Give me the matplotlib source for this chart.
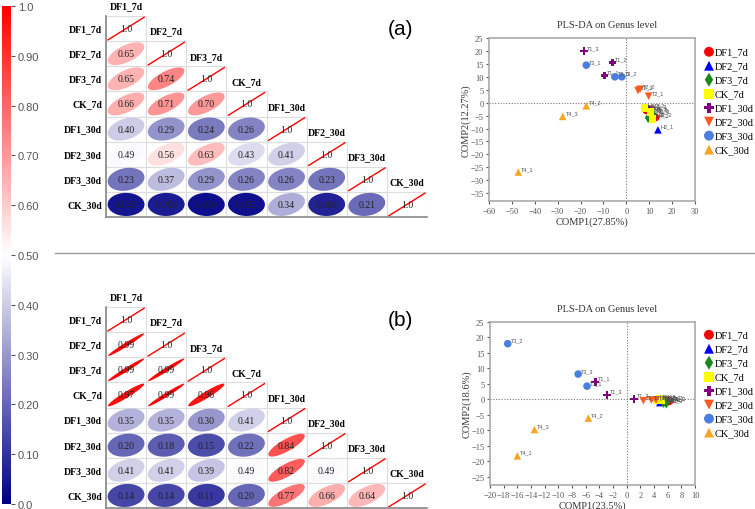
import numpy as np
import matplotlib
matplotlib.use('Agg')
import matplotlib.pyplot as plt
from matplotlib.colors import LinearSegmentedColormap, Normalize
from matplotlib.patches import Polygon, Rectangle
from matplotlib.lines import Line2D
import matplotlib.cm as cm

W, H = 755, 510

groups = ['DF1_7d', 'DF2_7d', 'DF3_7d', 'CK_7d', 'DF1_30d', 'DF2_30d', 'DF3_30d', 'CK_30d']

# lower triangle of the correlation matrices (row i, columns 0..i-1)
corr_a = [
    [],
    [0.65],
    [0.65, 0.74],
    [0.66, 0.71, 0.70],
    [0.40, 0.29, 0.24, 0.26],
    [0.49, 0.56, 0.63, 0.43, 0.41],
    [0.23, 0.37, 0.29, 0.26, 0.26, 0.23],
    [0.042, 0.056, 0.030, 0.032, 0.34, 0.068, 0.21],
]
corr_b = [
    [],
    [0.99],
    [0.99, 0.99],
    [0.97, 0.99, 0.96],
    [0.35, 0.35, 0.30, 0.41],
    [0.20, 0.18, 0.15, 0.22, 0.84],
    [0.41, 0.41, 0.39, 0.49, 0.82, 0.49],
    [0.14, 0.14, 0.11, 0.20, 0.77, 0.66, 0.64],
]

# PLS-DA scores (COMP1, COMP2) per group, three samples each
sample_names = {
    'DF1_7d': ['H1_1', 'H1_2', 'H1_3'], 'DF2_7d': ['H2_1', 'H2_2', 'H2_3'],
    'DF3_7d': ['H3_1', 'H3_2', 'H3_3'], 'CK_7d': ['H4_1', 'H4_2', 'H4_3'],
    'DF1_30d': ['T1_1', 'T1_2', 'T1_3'], 'DF2_30d': ['T2_1', 'T2_2', 'T2_3'],
    'DF3_30d': ['T3_1', 'T3_2', 'T3_3'], 'CK_30d': ['T4_1', 'T4_2', 'T4_3'],
}
scores_a = {
    'DF1_7d': [(8.7, -3.0), (12.8, -5.7), (10.5, -2.5)],
    'DF2_7d': [(13.8, -10.5), (9.8, -2.2), (11.5, -4.0)],
    'DF3_7d': [(9.5, -5.8), (11.0, -3.8), (11.8, -4.5)],
    'CK_7d': [(8.0, -2.1), (11.4, -6.2), (10.5, -3.5)],
    'DF1_30d': [(-9.5, 10.5), (-6.0, 15.5), (-18.5, 20.0)],
    'DF2_30d': [(9.75, 2.5), (6.0, 5.2), (5.1, 4.7)],
    'DF3_30d': [(-17.5, 14.5), (-2.0, 10.0), (-5.0, 10.0)],
    'CK_30d': [(-47.2, -26.8), (-17.5, -1.2), (-27.8, -5.3)],
}
scores_b = {
    'DF1_7d': [(6.1, -0.7), (5.8, -0.3), (6.3, -0.5)],
    'DF2_7d': [(4.85, -1.0), (5.2, -0.6), (5.5, -0.8)],
    'DF3_7d': [(5.4, -1.0), (5.6, -0.4), (5.8, -1.2)],
    'CK_7d': [(4.45, -0.1), (4.8, 0.1), (5.0, -0.3)],
    'DF1_30d': [(-4.6, 5.7), (1.1, 0.2), (-2.9, 1.5)],
    'DF2_30d': [(2.45, -0.4), (3.6, -0.2), (4.3, -0.2)],
    'DF3_30d': [(-5.8, 4.3), (-17.4, 18.0), (-7.1, 8.2)],
    'CK_30d': [(-16.0, -18.2), (-5.6, -6.0), (-13.5, -9.7)],
}

markers = ['o', '^', 'd', 's', 'P', 'v', 'o', '^']
colors = ['#ff0000', '#0000ff', '#1b8a1b', '#ffff00', '#800080', '#ff5a1f', '#4a7ee0', '#f5a623']

cmap = LinearSegmentedColormap.from_list('rwb', ['#000085', '#ffffff', '#ff0000'])
norm = Normalize(0, 1)


def box(l, t, r, b):
    return [l / W, 1 - b / H, (r - l) / W, (b - t) / H]


fig = plt.figure(figsize=(7.55, 5.1), dpi=100)

# colour bar
cax = fig.add_axes(box(2, 7, 11, 505))
cb = fig.colorbar(cm.ScalarMappable(norm=norm, cmap=cmap), cax=cax)
cb.outline.set_visible(False)
cb.set_ticks(np.arange(0, 1.01, 0.1))
cb.set_ticklabels(['0.0', '0.10', '0.20', '0.30', '0.40', '0.50', '0.60', '0.70', '0.80', '0.90', '1.0'])
cax.tick_params(labelsize=8, colors='#555555', length=3, width=0.8, pad=2)
for t in cax.get_yticklabels():
    t.set_family('Liberation Sans')


def draw_corr(ax, lower, tag):
    n = len(groups)
    ax.set_xlim(0, n)
    ax.set_ylim(n, 0)
    ax.set_xticks([])
    ax.set_yticks([])
    for s in ['top', 'right']:
        ax.spines[s].set_visible(False)
    for s in ['left', 'bottom']:
        ax.spines[s].set_color('#888888')
        ax.spines[s].set_linewidth(1.2)
    tt = np.linspace(0, 2 * np.pi, 80)
    for i in range(n):
        for j in range(i + 1):
            ax.add_patch(Rectangle((j, i), 1, 1, fill=False, ec='#dddddd', lw=0.8))
            cx, cy = j + 0.5, i + 0.5
            if i == j:
                ax.plot([j + 0.05, j + 0.95], [i + 0.95, i + 0.05], color='red', lw=1)
                ax.text(cx, cy, '1.0', ha='center', va='center', fontsize=7,
                        family='Liberation Serif', color='#222222')
                continue
            r = lower[i][j]
            a = 0.45 * np.sqrt(1 + r)
            b = 0.45 * np.sqrt(1 - r) + 0.02
            u = a * np.cos(tt)
            v = b * np.sin(tt)
            pts = np.column_stack([cx + (u - v) / np.sqrt(2), cy - (u + v) / np.sqrt(2)])
            ax.add_patch(Polygon(pts, closed=True, fc=cmap(norm(r)), ec='none'))
            lab = '%.3f' % r if r < 0.1 else '%.2f' % r
            ax.text(cx, cy, lab, ha='center', va='center', fontsize=7,
                    family='Liberation Serif', color='#222222')
    for k, g in enumerate(groups):
        ax.text(-0.1, k + 0.5, g, ha='right', va='center', fontsize=7,
                family='Liberation Serif', weight='bold', clip_on=False)
        ax.text(k + 0.5, k - 0.4, g, ha='center', va='center', fontsize=7,
                family='Liberation Serif', weight='bold', clip_on=False)
    ax.text(7.35, 0.5, tag, ha='center', va='center', fontsize=15, family='Liberation Sans')


def draw_pls(ax, scores, xlim, ylim, xticks, yticks, xlab, ylab):
    ax.set_xlim(*xlim)
    ax.set_ylim(*ylim)
    ax.axvline(0, color='#777777', ls=(0, (1, 1.5)), lw=0.8)
    ax.axhline(0, color='#777777', ls=(0, (1, 1.5)), lw=0.8)
    handles = []
    for g, m, c in zip(groups, markers, colors):
        pts = np.array(scores[g])
        h = ax.scatter(pts[:, 0], pts[:, 1], marker=m, c=c, s=30, edgecolors='none', zorder=3)
        handles.append(h)
        for (x, y), nm in zip(scores[g], sample_names[g]):
            ax.annotate(nm, (x, y), xytext=(2, 1.5), textcoords='offset points',
                        fontsize=4, color='#555555', family='Liberation Sans')
    ax.set_xticks(xticks)
    ax.set_yticks(yticks)
    ax.tick_params(labelsize=6, colors='#555555', length=2.5, width=0.8, pad=1.5)
    for t in ax.get_xticklabels() + ax.get_yticklabels():
        t.set_family('Liberation Serif')
    for s in ax.spines.values():
        s.set_color('#aaaaaa')
        s.set_linewidth(1.2)
    ax.set_xlabel(xlab, fontsize=7.5, family='Liberation Serif', color='#333333', labelpad=1)
    ax.set_ylabel(ylab, fontsize=7.5, family='Liberation Serif', color='#333333', labelpad=0)
    return handles


def legend(handles, top):
    fig.legend(handles, groups, loc='upper left', bbox_to_anchor=(697 / W, 1 - top / H),
               frameon=False, prop={'family': 'Liberation Serif', 'size': 7.5}, markerscale=1.3,
               handletextpad=-0.1, labelspacing=0.45, borderpad=0, handlelength=1.3)


# panel (a)
ax1 = fig.add_axes(box(106, 17, 427, 218))
draw_corr(ax1, corr_a, '(a)')
ax2 = fig.add_axes(box(489, 39, 695, 202))
hs = draw_pls(ax2, scores_a, (-60, 30), (-38, 25), np.arange(-60, 31, 10), np.arange(-35, 26, 5),
              'COMP1(27.85%)', 'COMP2(12.27%)')
fig.text(607 / W, 1 - 25 / H, 'PLS-DA on Genus level', ha='center', va='center',
         fontsize=7.5, family='Liberation Serif', color='#333333')
legend(hs, 43)

# divider
fig.add_artist(Line2D([55 / W, 1], [1 - 254 / H, 1 - 254 / H], color='#999999', lw=1))

# panel (b)
ax3 = fig.add_axes(box(106, 308, 427, 509))
draw_corr(ax3, corr_b, '(b)')
ax4 = fig.add_axes(box(490, 323, 695, 486))
hs = draw_pls(ax4, scores_b, (-20, 10), (-27.6, 25), np.arange(-20, 11, 2), np.arange(-25, 26, 5),
              'COMP1(23.5%)', 'COMP2(18.6%)')
fig.text(607 / W, 1 - 310 / H, 'PLS-DA on Genus level', ha='center', va='center',
         fontsize=7.5, family='Liberation Serif', color='#333333')
legend(hs, 326)

fig.savefig('out.png', dpi=100)
